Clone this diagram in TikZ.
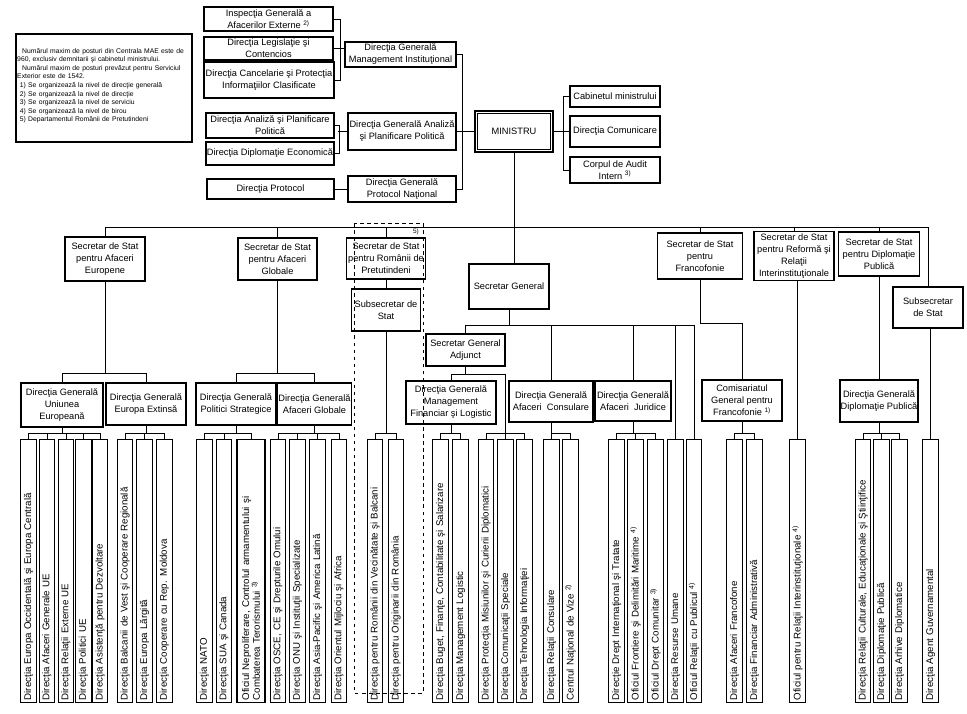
\documentclass[tikz,border=0pt]{standalone}
\usepackage{fontspec}
\setmainfont{Liberation Sans}
\begin{document}
\begin{tikzpicture}[x=0.3mm, y=-0.3mm,
  box/.style={shape=rectangle, draw, line width=1pt, align=center, inner sep=0.5pt, font=\fontsize{7.9}{10.2}\selectfont},
  vbox/.style={shape=rectangle, draw, line width=1pt, rotate=90, text width=77.6mm, align=left, inner xsep=2pt, inner ysep=0pt, minimum height=4.65mm, font=\fontsize{8.3}{9.2}\selectfont},
  link/.style={line width=0.75pt}]
\useasboundingbox (0,0) rectangle (967,713);

% note
\node[draw, line width=0.9pt, minimum width=52.8mm, minimum height=32.4mm] (note) at (104,88) {};
\node[anchor=north west, text width=52mm, align=left, inner sep=0pt, font=\fontsize{5.8}{7.3}\selectfont] (noteText) at (17,48) {\hspace*{1.5mm}Numărul maxim de posturi din Centrala MAE este de\\960, exclusiv demnitarii şi cabinetul ministrului.\\\hspace*{1.5mm}Numărul maxim de posturi prevăzut pentru Serviciul\\Exterior este de 1542.\\\hspace*{0.8mm}1) Se organizează la nivel de direcţie generală\\\hspace*{0.8mm}2) Se organizează la nivel de direcţie\\\hspace*{0.8mm}3) Se organizează la nivel de serviciu\\\hspace*{0.8mm}4) Se organizează la nivel de birou\\\hspace*{0.8mm}5) Departamentul Românii de Pretutindeni};

% top
\node[box, minimum width=38.7mm, minimum height=7.2mm] (insp) at (268.5,19) {Inspecţia Generală a\\Afacerilor Externe \textsuperscript{2)}};
\node[box, minimum width=38.7mm, minimum height=6.9mm] (legis) at (268.5,48.5) {Direcţia Legislaţie şi\\Contencios};
\node[box, minimum width=39mm, minimum height=10.8mm] (canc) at (269,80) {Direcţia Cancelarie şi Protecţia\\Informaţiilor Clasificate};
\node[box, minimum width=33.3mm, minimum height=7.5mm] (dgmi) at (400.5,54.5) {Direcţia Generală\\Management Instituţional};
\node[box, minimum width=38.4mm, minimum height=7.5mm] (analiza) at (270,125.5) {Direcţia Analiză şi Planificare\\Politică};
\node[box, minimum width=38.4mm, minimum height=6.9mm] (dipec) at (270,153.5) {Direcţia Diplomaţie Economică};
\node[box, minimum width=32.4mm, minimum height=11.1mm] (dgap) at (402,131.5) {Direcţia Generală Analiză\\şi Planificare Politică};
\node[box, minimum width=38.1mm, minimum height=6mm] (protocol) at (270.5,189) {Direcţia Protocol};
\node[box, minimum width=32.4mm, minimum height=7.8mm] (dgpn) at (402,189) {Direcţia Generală\\Protocol Naţional};
\node[box, double, double distance=1.4pt, line width=0.9pt, minimum width=22.6mm, minimum height=11.5mm] (ministru) at (514,131.5) {MINISTRU};
\node[box, minimum width=27mm, minimum height=6.3mm] (cabinet) at (615,96.5) {Cabinetul ministrului};
\node[box, minimum width=27mm, minimum height=9.3mm] (comunicare) at (615,131.5) {Direcţia Comunicare};
\node[box, minimum width=27mm, minimum height=7.8mm] (audit) at (615,170) {Corpul de Audit\\Intern \textsuperscript{3)}};

\draw[link] (insp.east) -- ++(7,0) |- (canc.east);
\draw[link] (legis.east) -- (legis.east -| dgmi.west);
\draw[link] (analiza.east) -- ++(5,0) |- (dipec.east);
\draw[link] (dgap.west) -- ++(-9,0);
\draw[link] (protocol.east) -- (dgpn.west);
\draw[link] (dgmi.east) -- ++(6,0) |- (dgpn.east);
\draw[link] (dgap.east) -- (ministru.west);
\draw[link] (cabinet.west) -- ++(-6,0) |- (audit.west);
\draw[link] (ministru.east) -- (comunicare.west);

% secretari de stat
\node[box, minimum width=24mm, minimum height=13.2mm] (ssEur) at (105,259) {Secretar de Stat\\pentru Afaceri\\Europene};
\node[box, minimum width=23.7mm, minimum height=12.6mm] (ssGlob) at (277.5,259) {Secretar de Stat\\pentru Afaceri\\Globale};
\node[box, minimum width=23.7mm, minimum height=12.3mm] (ssRom) at (386,258.5) {Secretar de Stat\\pentru Românii de\\Pretutindeni};
\node[box, minimum width=20.7mm, minimum height=12.6mm] (subRom) at (386,310) {Subsecretar de\\Stat};
\node[box, minimum width=24mm, minimum height=13.5mm] (sg) at (509,286.5) {Secretar General};
\node[box, minimum width=23.7mm, minimum height=9.6mm] (sga) at (465.5,350) {Secretar General\\Adjunct};
\node[box, minimum width=25.5mm, minimum height=13.8mm] (ssFr) at (700,256) {Secretar de Stat\\pentru\\Francofonie};
\node[box, minimum width=24mm, minimum height=14.7mm] (ssRef) at (794,256) {Secretar de Stat\\pentru Reformă şi\\Relaţii\\Interinstituţionale};
\node[box, minimum width=24.3mm, minimum height=13.2mm] (ssDP) at (879,254) {Secretar de Stat\\pentru Diplomaţie\\Publică};
\node[box, minimum width=21mm, minimum height=12.3mm] (subDP) at (928,307.5) {Subsecretar\\de Stat};
\node[font=\fontsize{5.5}{6}\selectfont, inner sep=0pt] (fn5) at (416,232) {5)};

\coordinate (busA) at (0,227);
\draw[link] (ministru.south) -- (ministru.south |- sg.north);
\draw[link] (ssEur.north) -- (ssEur.north |- busA) -| (subDP.north);
\draw[link] (ssGlob.north) -- (ssGlob.north |- busA);
\draw[link] (ssRom.north) -- (ssRom.north |- busA);
\draw[link] (ssFr.north) -- (ssFr.north |- busA);
\draw[link] (ssRef.north) -- (ssRef.north |- busA);
\draw[link] (ssDP.north) -- (ssDP.north |- busA);
\draw[link] (ssRom.south) -- (subRom.north);
\draw[link, dashed] (354,223) rectangle (423,693);

% directii generale
\node[box, minimum width=24.6mm, minimum height=13.2mm] (dgue) at (62,405) {Direcţia Generală\\Uniunea\\Europeană};
\node[box, minimum width=24mm, minimum height=12.6mm] (dgee) at (146,404) {Direcţia Generală\\Europa Extinsă};
\node[box, minimum width=24mm, minimum height=12.6mm] (dgps) at (236,404) {Direcţia Generală\\Politici Strategice};
\node[box, minimum width=21.3mm, minimum height=12.6mm] (dgag) at (314.5,404) {Direcţia Generală\\Afaceri Globale};
\node[box, minimum width=27mm, minimum height=12.9mm] (dgmfl) at (451,402.5) {Direcţia Generală\\Management\\Financiar şi Logistic};
\node[box, minimum width=25.2mm, minimum height=12.3mm] (dgac) at (551,401.5) {Direcţia Generală\\Afaceri~~Consulare};
\node[box, minimum width=22.8mm, minimum height=12mm] (dgaj) at (633,401) {Direcţia Generală\\Afaceri~~Juridice};
\node[box, minimum width=24mm, minimum height=12.3mm] (comis) at (742,400.5) {Comisariatul\\General pentru\\Francofonie \textsuperscript{1)}};
\node[box, minimum width=23.4mm, minimum height=12.6mm] (dgdp) at (879,401) {Direcţia Generală\\Diplomaţie Publică};

\coordinate (busB) at (0,325);
\coordinate (busC) at (0,373);
\coordinate (busE) at (0,374);
\coordinate (busD) at (0,433);
\draw[link] (ssEur.south) -- (ssEur.south |- busC);
\draw[link] (dgue.north) -- (dgue.north |- busC) -| (dgee.north);
\draw[link] (ssGlob.south) -- (ssGlob.south |- busC);
\draw[link] (dgps.north) -- (dgps.north |- busC) -| (dgag.north);
\draw[link] (sg.south) -- (sg.south |- busB);
\draw[link] (sga.south) -- (sga.south |- busE);
\draw[link] (dgac.north) -- (dgac.north |- busB);
\draw[link] (dgaj.north) -- (dgaj.north |- busB);
\draw[link] (ssFr.south) -- (ssFr.south |- 0,323) -| (comis.north);
\draw[link] (ssDP.south) -- (dgdp.north);

% directii
\node[vbox] (v1) at (28.5,571) {Direcţia Europa Occidentală şi Europa Centrală};
\node[vbox] (v2) at (47,571) {Direcţia Afaceri Generale UE};
\node[vbox] (v3) at (66,571) {Direcţia Relaţii Externe UE};
\node[vbox] (v4) at (83.5,571) {Direcţia Politici UE};
\node[vbox] (v5) at (100,571) {Direcţia Asistenţă pentru Dezvoltare};
\node[vbox] (v6) at (125,571) {Direcţia Balcanii de Vest şi Cooperare Regională};
\node[vbox] (v7) at (144.5,571) {Direcţia Europa Lărgită};
\node[vbox] (v8) at (164.5,571) {Direcţia Cooperare cu Rep. Moldova};
\node[vbox] (v9) at (204.5,571) {Direcţia NATO};
\node[vbox] (v10) at (224,571) {Direcţia SUA şi Canada};
\node[vbox, minimum height=8.4mm] (v11) at (251,571) {Oficiul Neproliferare, Controlul armamentului şi\\Combaterea Terorismului \textsuperscript{3)}};
\node[vbox] (v12) at (278,571) {Direcţia OSCE, CE şi Drepturile Omului};
\node[vbox] (v13) at (297.5,571) {Direcţia ONU şi Instituţii Specializate};
\node[vbox] (v14) at (317.5,571) {Direcţia Asia-Pacific şi America Latină};
\node[vbox] (v15) at (339,571) {Direcţia Orientul Mijlociu şi Africa};
\node[vbox] (v16) at (375,571) {Direcţia pentru Românii din Vecinătate şi Balcani};
\node[vbox] (v17) at (396,571) {Direcţia pentru Originarii din România};
\node[vbox] (v18) at (440.5,571) {Direcţia Buget, Finanţe, Contabilitate şi Salarizare};
\node[vbox] (v19) at (460.5,571) {Direcţia Management Logistic};
\node[vbox] (v20) at (486,571) {Direcţia Protecţia Misiunilor şi Curierii Diplomatici};
\node[vbox] (v21) at (505.5,571) {Direcţia Comunicaţii Speciale};
\node[vbox] (v22) at (524.5,571) {Direcţia Tehnologia Informaţiei};
\node[vbox] (v23) at (551.5,571) {Direcţia Relaţii Consulare};
\node[vbox] (v24) at (570.5,571) {Centrul Naţional de Vize \textsuperscript{2)}};
\node[vbox] (v25) at (616.5,571) {Direcţie Drept Internaţional şi Tratate};
\node[vbox] (v26) at (635.5,571) {Oficiul Frontiere şi Delimitări Maritime \textsuperscript{4)}};
\node[vbox] (v27) at (655.5,571) {Oficiul Drept Comunitar \textsuperscript{3)}};
\node[vbox] (v28) at (675.5,571) {Direcţia Resurse Umane};
\node[vbox] (v29) at (694,571) {Oficiul Relaţii cu Publicul \textsuperscript{4)}};
\node[vbox] (v30) at (734.5,571) {Direcţia Afaceri Francofone};
\node[vbox] (v31) at (754.5,571) {Direcţia Financiar Administrativă};
\node[vbox] (v32) at (797.5,571) {Oficiul pentru Relaţii Interinstituţionale \textsuperscript{4)}};
\node[vbox] (v33) at (863,571) {Direcţia Relaţii Culturale, Educaţionale şi Ştiinţifice};
\node[vbox] (v34) at (881.5,571) {Direcţia Diplomaţie Publică};
\node[vbox] (v35) at (899.5,571) {Direcţia Arhive Diplomatice};
\node[vbox] (v36) at (930.5,571) {Direcţia Agent Guvernamental};

\draw[link] (dgue.south) -- (dgue.south |- busD);
\draw[link] (v1.east) -- (v1.east |- busD) -| (v5.east);
\draw[link] (v2.east) -- (v2.east |- busD) (v3.east) -- (v3.east |- busD) (v4.east) -- (v4.east |- busD);
\draw[link] (dgee.south) -- (dgee.south |- busD);
\draw[link] (v6.east) -- (v6.east |- busD) -| (v8.east);
\draw[link] (v7.east) -- (v7.east |- busD);
\draw[link] (dgps.south) -- (dgps.south |- busD);
\draw[link] (v9.east) -- (v9.east |- busD) -| (v11.east);
\draw[link] (v10.east) -- (v10.east |- busD);
\draw[link] (dgag.south) -- (dgag.south |- busD);
\draw[link] (v12.east) -- (v12.east |- busD) -| (v15.east);
\draw[link] (v13.east) -- (v13.east |- busD) (v14.east) -- (v14.east |- busD);
\draw[link] (subRom.south) -- (subRom.south |- busD);
\draw[link] (v16.east) -- (v16.east |- busD) -| (v17.east);
\draw[link] (dgmfl.north) -- (dgmfl.north |- busE) -| (v21.east);
\draw[link] (dgmfl.south) -- (dgmfl.south |- busD);
\draw[link] (v18.east) -- (v18.east |- busD) -| (v19.east);
\draw[link] (v20.east) -- (v20.east |- busD) -| (v22.east);
\draw[link] (sga.north) -- (sga.north |- busB) -| (v29.east);
\draw[link] (v28.east) -- (v28.east |- busB);
\draw[link] (dgac.south) -- (dgac.south |- busD);
\draw[link] (v23.east) -- (v23.east |- busD) -| (v24.east);
\draw[link] (dgaj.south) -- (dgaj.south |- busD);
\draw[link] (v25.east) -- (v25.east |- busD) -| (v27.east);
\draw[link] (v26.east) -- (v26.east |- busD);
\draw[link] (comis.south) -- (comis.south |- busD);
\draw[link] (v30.east) -- (v30.east |- busD) -| (v31.east);
\draw[link] (v32.east) -- (v32.east |- ssRef.south);
\draw[link] (dgdp.south) -- (dgdp.south |- busD);
\draw[link] (v33.east) -- (v33.east |- busD) -| (v35.east);
\draw[link] (v34.east) -- (v34.east |- busD);
\draw[link] (v36.east) -- (v36.east |- subDP.south);
\end{tikzpicture}
\end{document}
